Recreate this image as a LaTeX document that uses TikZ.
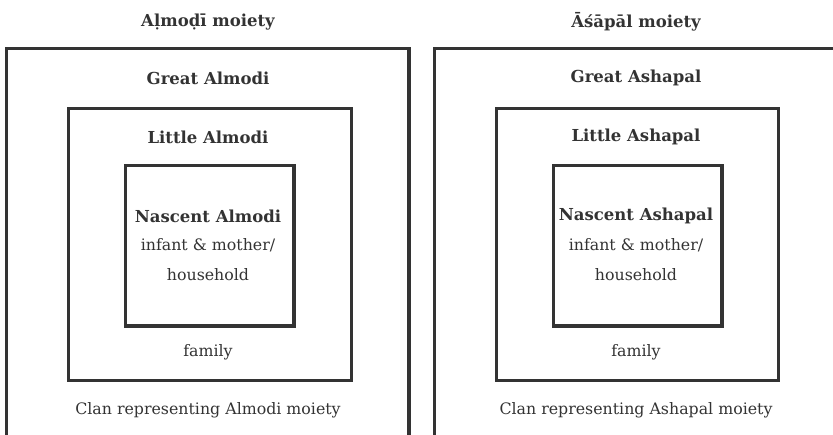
\documentclass[tikz,border=0pt]{standalone}
\usepackage{fontspec}
\setmainfont{DejaVu Serif}
\definecolor{ink}{HTML}{333333}
\begin{document}
\begin{tikzpicture}[x=1pt,y=-1pt,
  boxline/.style={draw=ink,line width=3.2pt},
  head/.style={text=ink,font=\fontsize{16.5}{19}\selectfont\bfseries,inner sep=0pt},
  body/.style={text=ink,font=\fontsize{15.8}{19}\selectfont,inner sep=0pt},
  sq/.style={boxline,rectangle,inner sep=0pt,anchor=north west}]
\useasboundingbox (0,0) rectangle (833,435);
% left side
\draw[boxline] (6.5,435) -- (6.5,48.5) -- (409,48.5) -- (409,435);
\node[sq,minimum width=283.2pt,minimum height=272pt] (lmid) at (66.5,107) {};
\node[sq,minimum width=168.6pt,minimum height=160.8pt] (linn) at (123.7,163.7) {};
\node[head] (ltitle) at (208,22) {Aḷmoḍī moiety};
\node[head] (lgreat) at (208,78) {Great Almodi};
\node[head] (llittle) at (208,137) {Little Almodi};
\node[head] (lnasc) at (208,216) {Nascent Almodi};
\node[body] (linf) at (208,245) {infant \& mother/};
\node[body] (lhouse) at (208,275) {household};
\node[body] (lfam) at (208,352) {family};
\node[body] (lclan) at (208,410) {Clan representing Almodi moiety};
% right side
\draw[boxline] (434.5,435) -- (434.5,48.5) -- (833,48.5);
\node[sq,minimum width=282.5pt,minimum height=272pt] (rmid) at (494.5,107) {};
\node[sq,minimum width=168.6pt,minimum height=160.8pt] (rinn) at (551.7,163.7) {};
\node[head] (rtitle) at (636,22) {Āśāpāl moiety};
\node[head] (rgreat) at (636,78) {Great Ashapal};
\node[head] (rlittle) at (636,137) {Little Ashapal};
\node[head] (rnasc) at (636,216) {Nascent Ashapal};
\node[body] (rinf) at (636,245) {infant \& mother/};
\node[body] (rhouse) at (636,275) {household};
\node[body] (rfam) at (636,352) {family};
\node[body] (rclan) at (636,410) {Clan representing Ashapal moiety};
\end{tikzpicture}
\end{document}
